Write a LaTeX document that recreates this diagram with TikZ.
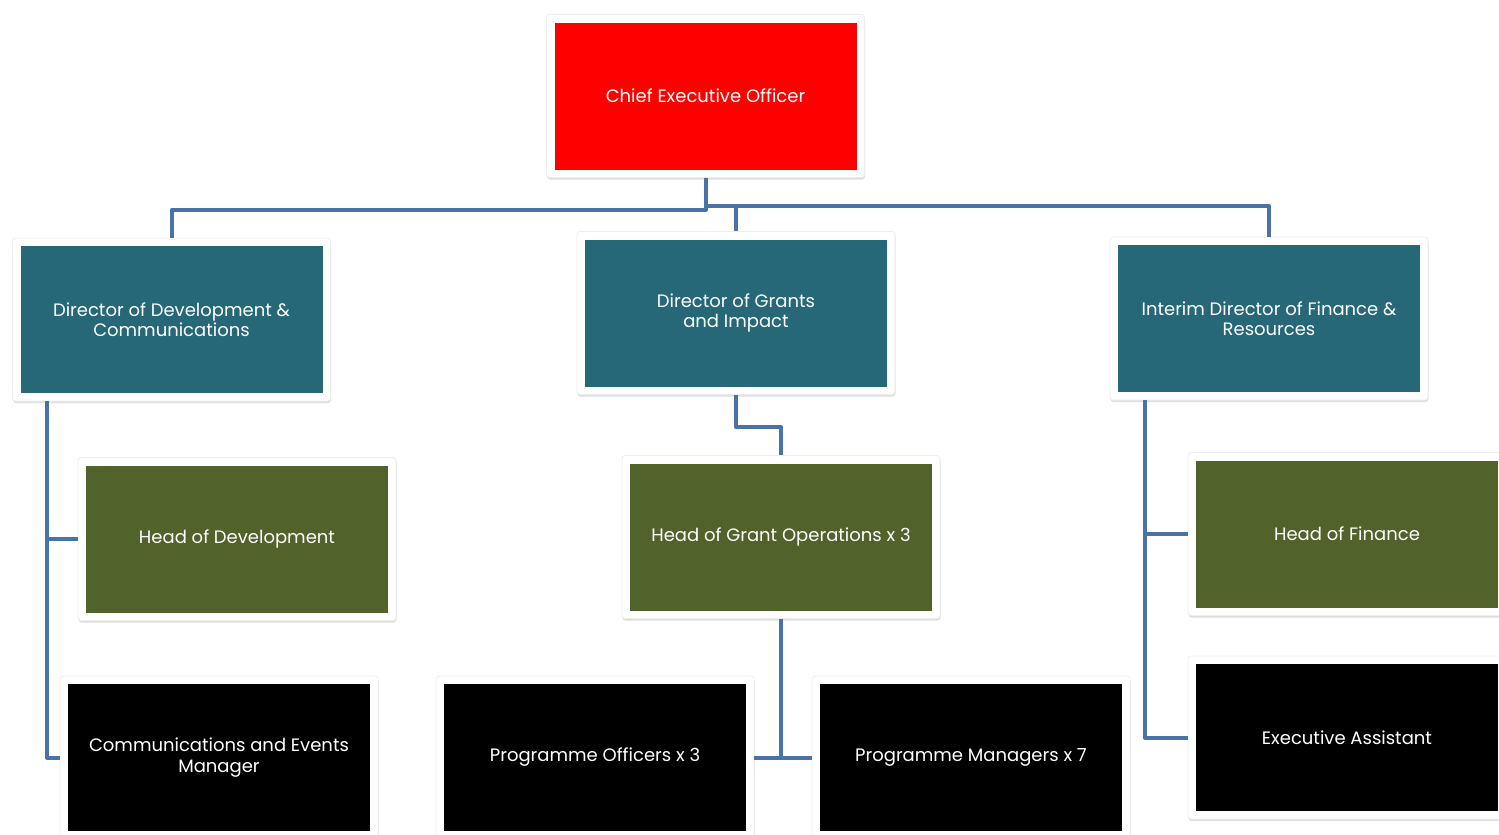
\documentclass[tikz,border=0pt]{standalone}
\usepackage{fontspec}
\setmainfont{Poppins}
\usetikzlibrary{shadows}

\definecolor{ceored}{RGB}{255,0,0}
\definecolor{dirteal}{RGB}{38,104,120}
\definecolor{headolive}{RGB}{81,98,42}
\definecolor{linkblue}{RGB}{74,114,170}

\tikzset{
    orgbox/.style={fill=white, draw=black!7, line width=0.8pt, rounded corners=3pt,
        minimum width=318pt, minimum height=163pt, inner sep=0pt,
        align=center, text=white, font=\fontsize{18}{20.5}\selectfont,
        drop shadow={shadow xshift=0.5pt, shadow yshift=-2pt, opacity=0.25, fill=black!50},
        path picture={\fill[#1, sharp corners]
            ([shift={(8pt,8pt)}]path picture bounding box.south west) rectangle
            ([shift={(-8pt,-8pt)}]path picture bounding box.north east);}},
    link/.style={draw=linkblue, line width=4pt, line join=round}
}

\begin{document}
\begin{tikzpicture}[x=1pt,y=-1pt]
    \useasboundingbox (0,0) rectangle (1499,835);

    % top level
    \node[orgbox=ceored] (ceo) at (705.5,96) {Chief Executive Officer};

    % directors
    \node[orgbox=dirteal] (devdir) at (171.5,319.5) {Director of Development \&\\Communications};
    \node[orgbox=dirteal] (grants) at (736,313) {Director of Grants\\and Impact};
    \node[orgbox=dirteal] (interim) at (1269,318.5) {Interim Director of Finance \&\\Resources};

    % heads
    \node[orgbox=headolive] (headdev) at (237,539) {Head of Development};
    \node[orgbox=headolive] (headgrant) at (781,537) {Head of Grant Operations x 3};
    \node[orgbox=headolive] (headfin) at (1347,534) {Head of Finance};

    % staff
    \node[orgbox=black] (comm) at (219,757.5) {Communications and Events\\Manager};
    \node[orgbox=black] (officers) at (595,757.5) {Programme Officers x 3};
    \node[orgbox=black] (managers) at (971,757.5) {Programme Managers x 7};
    \node[orgbox=black] (execasst) at (1347,737.5) {Executive Assistant};

    % connectors
    \draw[link] (ceo.south) -- ++(0,32) -| (devdir.north);
    \draw[link] (ceo.south) ++(0,28) -| (grants.north);
    \draw[link] (grants.north) ++(0,-25) -| (interim.north);
    \draw[link] (grants.south) -- ++(0,32) -| (headgrant.north);
    \draw[link] (headgrant.south) |- (officers.east);
    \draw[link] (headgrant.south) |- (managers.west);
    \draw[link] ([xshift=-124.5pt]devdir.south) |- (headdev.west);
    \draw[link] ([xshift=-124.5pt]devdir.south) |- (comm.west);
    \draw[link] ([xshift=-124pt]interim.south) |- (headfin.west);
    \draw[link] ([xshift=-124pt]interim.south) |- (execasst.west);
\end{tikzpicture}
\end{document}
